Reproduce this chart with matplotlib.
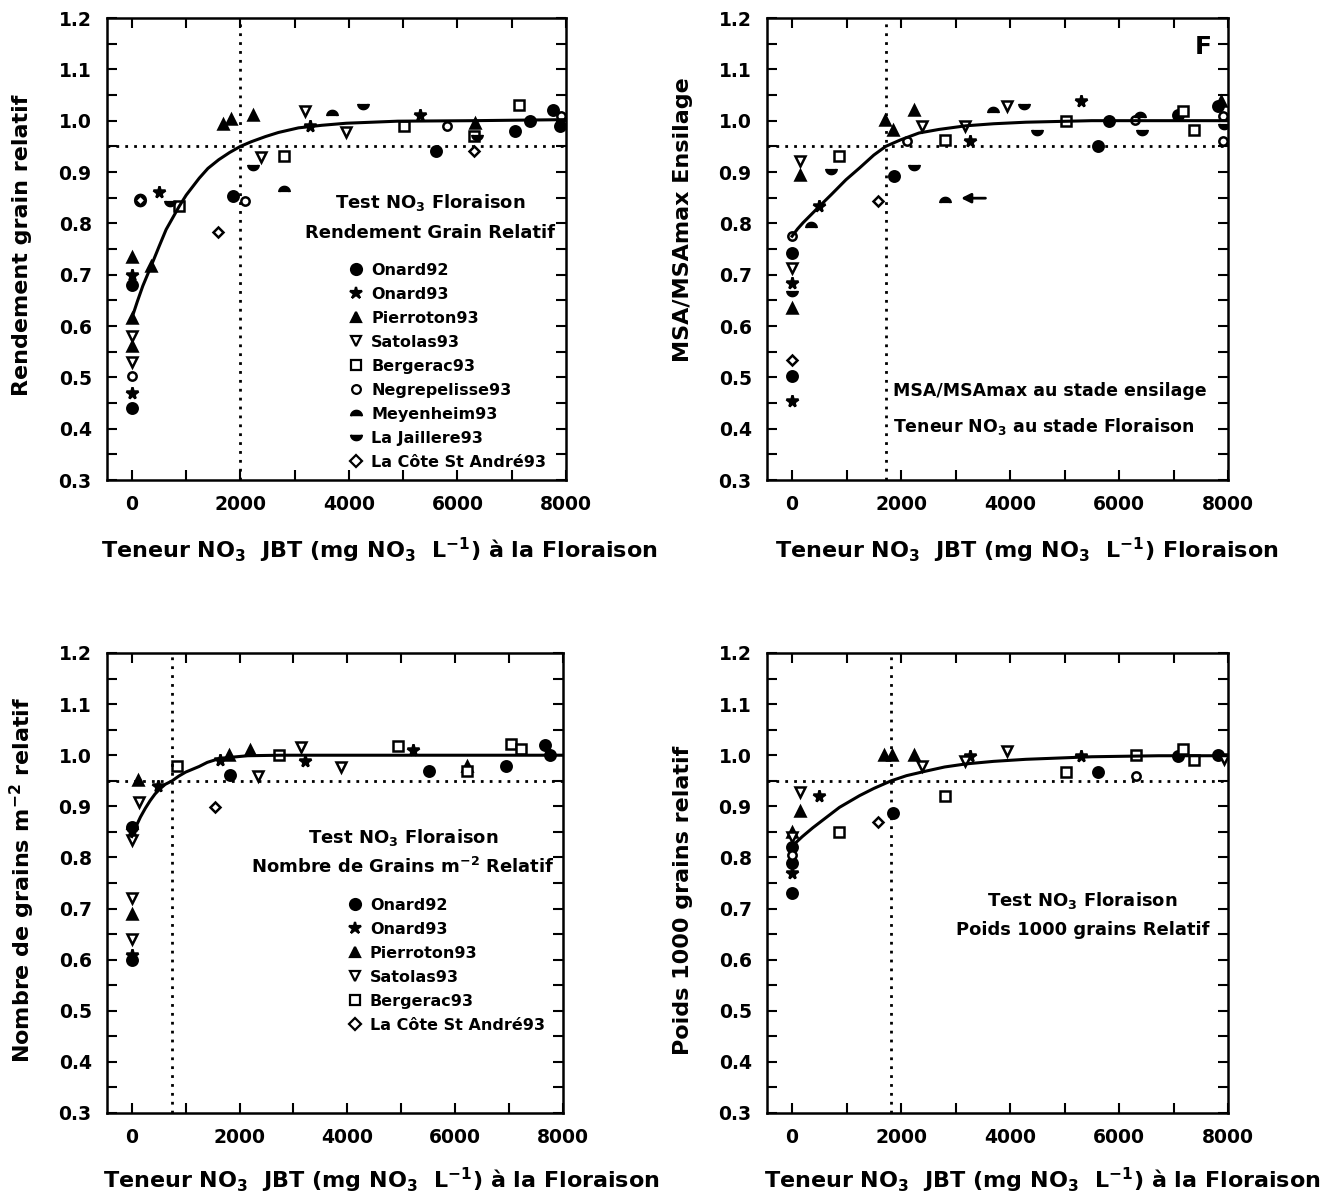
import numpy as np
import matplotlib
matplotlib.use("Agg")
import matplotlib.pyplot as plt
from matplotlib.ticker import MultipleLocator, FormatStrFormatter
from matplotlib.lines import Line2D

plt.rcParams['font.family'] = ['DejaVu Sans']
plt.rcParams['font.weight'] = 'bold'
plt.rcParams['mathtext.default'] = 'bf'

SITES = ["Onard92", "Onard93", "Pierroton93", "Satolas93", "Bergerac93",
         "Negrepelisse93", "Meyenheim93", "La Jaillere93", "La Côte St André93"]

# --- Rendement grain relatif (haut gauche)
rdt_x = {
    "Onard92": [0, 0, 1870, 5610, 7060, 7330, 7760, 7890],
    "Onard93": [0, 0, 500, 3280, 5300],
    "Pierroton93": [0, 0, 0, 350, 1680, 1830, 2240, 6330],
    "Satolas93": [0, 0, 2380, 3190, 3950],
    "Bergerac93": [860, 2810, 5020, 6300, 7130],
    "Negrepelisse93": [0, 2090, 5800, 7900],
    "Meyenheim93": [150, 2810, 3680],
    "La Jaillere93": [150, 700, 2240, 4260, 6360],
    "La Côte St André93": [150, 1585, 6300],
}
rdt_y = {
    "Onard92": [0.44, 0.68, 0.853, 0.94, 0.98, 1.0, 1.021, 0.99],
    "Onard93": [0.70, 0.47, 0.862, 0.99, 1.012],
    "Pierroton93": [0.734, 0.616, 0.562, 0.716, 0.994, 1.004, 1.012, 0.995],
    "Satolas93": [0.58, 0.53, 0.929, 1.018, 0.978],
    "Bergerac93": [0.833, 0.932, 0.989, 0.971, 1.031],
    "Negrepelisse93": [0.503, 0.843, 0.99, 1.01],
    "Meyenheim93": [0.852, 0.866, 1.014],
    "La Jaillere93": [0.84, 0.84, 0.909, 1.029, 0.968],
    "La Côte St André93": [0.846, 0.783, 0.94],
}
rdt_curve_x = [0, 100, 200, 350, 500, 630, 870, 1000, 1240, 1400, 1600, 1800, 2000, 2200,
               2460, 2700, 3070, 3500, 3950, 4900, 6300, 8000]
rdt_curve_y = [0.616, 0.648, 0.678, 0.716, 0.755, 0.788, 0.833, 0.855, 0.888, 0.907, 0.924, 0.938,
               0.95, 0.959, 0.969, 0.977, 0.986, 0.991, 0.995, 0.999, 1.0, 1.002]

# --- MSA/MSAmax ensilage (haut droite)
msa_x = {
    "Onard92": [0, 0, 1870, 5610, 5810, 7090, 7810],
    "Onard93": [0, 0, 490, 3260, 5300],
    "Pierroton93": [0, 140, 1700, 1850, 2230, 7880],
    "Satolas93": [0, 140, 2380, 3180, 3950],
    "Bergerac93": [870, 2810, 5030, 7180, 7370],
    "Negrepelisse93": [0, 2110, 6300, 7900, 7900],
    "Meyenheim93": [350, 2810, 3680, 6390],
    "La Jaillere93": [0, 720, 2230, 4260, 4500, 6420, 7930],
    "La Côte St André93": [0, 1570],
}
msa_y = {
    "Onard92": [0.503, 0.742, 0.892, 0.95, 1.0, 1.012, 1.029],
    "Onard93": [0.453, 0.684, 0.833, 0.96, 1.039],
    "Pierroton93": [0.635, 0.894, 1.002, 0.982, 1.02, 1.039],
    "Satolas93": [0.713, 0.922, 0.989, 0.989, 1.029],
    "Bergerac93": [0.932, 0.962, 1.0, 1.019, 0.981],
    "Negrepelisse93": [0.775, 0.961, 1.002, 1.01, 0.96],
    "Meyenheim93": [0.797, 0.846, 1.021, 1.012],
    "La Jaillere93": [0.664, 0.901, 0.909, 1.028, 0.978, 0.978, 0.989],
    "La Côte St André93": [0.534, 0.844],
}
msa_curve_x = [0, 100, 200, 350, 490, 720, 990, 1240, 1500, 1720, 2000, 2330, 2700, 3190,
               3700, 4290, 5500, 8000]
msa_curve_y = [0.775, 0.789, 0.801, 0.817, 0.832, 0.856, 0.885, 0.908, 0.933, 0.95, 0.963,
               0.976, 0.983, 0.99, 0.994, 0.997, 1.0, 1.0]

# --- Nombre de grains m-2 relatif (bas gauche)
ngr_x = {
    "Onard92": [0, 0, 1830, 5510, 6940, 7660, 7750],
    "Onard93": [0, 0, 480, 1640, 3220, 5220],
    "Pierroton93": [0, 120, 1800, 2200, 6210],
    "Satolas93": [0, 0, 0, 130, 2340, 3130, 3890],
    "Bergerac93": [840, 2740, 4930, 6210, 7030, 7220],
    "La Côte St André93": [1550],
}
ngr_y = {
    "Onard92": [0.60, 0.86, 0.961, 0.969, 0.979, 1.02, 1.0],
    "Onard93": [0.61, 0.853, 0.94, 0.99, 0.988, 1.01],
    "Pierroton93": [0.69, 0.952, 1.0, 1.01, 0.978],
    "Satolas93": [0.64, 0.72, 0.835, 0.908, 0.96, 1.017, 0.977],
    "Bergerac93": [0.979, 1.0, 1.019, 0.97, 1.021, 1.012],
    "La Côte St André93": [0.898],
}
ngr_curve_x = [0, 80, 160, 250, 340, 430, 520, 620, 750, 870, 1000, 1250, 1400, 1640, 2150, 2750, 8000]
ngr_curve_y = [0.841, 0.861, 0.879, 0.896, 0.911, 0.924, 0.934, 0.943, 0.95, 0.959, 0.967, 0.978,
               0.986, 0.994, 0.999, 1.0, 1.0]

# --- Poids 1000 grains relatif (bas droite)
pmg_x = {
    "Onard92": [0, 0, 0, 1860, 5610, 7090, 7820],
    "Onard93": [0, 490, 3270, 5300],
    "Pierroton93": [0, 140, 1680, 1840, 2230],
    "Satolas93": [0, 140, 2380, 3180, 3950, 7920],
    "Bergerac93": [870, 2810, 5030, 6310, 7170, 7370],
    "Negrepelisse93": [0, 6310],
    "La Côte St André93": [1570],
}
pmg_y = {
    "Onard92": [0.73, 0.79, 0.82, 0.887, 0.968, 0.999, 1.0],
    "Onard93": [0.77, 0.92, 0.999, 0.999],
    "Pierroton93": [0.85, 0.89, 1.0, 1.0, 1.0],
    "Satolas93": [0.84, 0.928, 0.979, 0.989, 1.008, 0.992],
    "Bergerac93": [0.85, 0.92, 0.968, 1.0, 1.012, 0.99],
    "Negrepelisse93": [0.805, 0.96],
    "La Côte St André93": [0.87],
}
pmg_curve_x = [0, 190, 380, 600, 870, 1240, 1500, 1820, 2100, 2460, 2800, 3190, 3700, 4290,
               5500, 6730, 8000]
pmg_curve_y = [0.822, 0.841, 0.858, 0.876, 0.898, 0.921, 0.935, 0.95, 0.96, 0.969, 0.977, 0.983,
               0.988, 0.992, 0.997, 0.999, 0.999]

# formes des symboles
t = np.linspace(0, np.pi, 25)
dome = [(np.cos(a), np.sin(a) - 0.5) for a in t]
cup = [(np.cos(a), -np.sin(a) + 0.5) for a in t]
STYLE = {
    "Onard92": dict(marker='o', ms=7.5, mfc='black'),
    "Onard93": dict(marker='*', ms=8.5, mfc='black'),
    "Pierroton93": dict(marker='^', ms=7.5, mfc='black'),
    "Satolas93": dict(marker='v', ms=7.5, mfc='white'),
    "Bergerac93": dict(marker='s', ms=6.5, mfc='white'),
    "Negrepelisse93": dict(marker='o', ms=6, mfc='white'),
    "Meyenheim93": dict(marker=dome, ms=7.5, mfc='black'),
    "La Jaillere93": dict(marker=cup, ms=7.5, mfc='black'),
    "La Côte St André93": dict(marker='D', ms=5.5, mfc='white'),
}


def panel(ax, xs, ys, cx, cy, vline):
    for s in SITES:
        if s in xs:
            ax.plot(xs[s], ys[s], ls='none', mec='black', mew=1.8, color='black', **STYLE[s])
    ax.plot(cx, cy, color='black', lw=2.2)
    ax.axhline(0.95, color='black', lw=2, ls=(0, (1, 2.2)))
    ax.axvline(vline, color='black', lw=2, ls=(0, (1, 2.2)))
    ax.set_xlim(-460, 8000)
    ax.set_ylim(0.3, 1.2)
    ax.xaxis.set_major_locator(MultipleLocator(2000))
    ax.xaxis.set_minor_locator(MultipleLocator(1000))
    ax.yaxis.set_major_locator(MultipleLocator(0.1))
    ax.yaxis.set_minor_locator(MultipleLocator(0.05))
    ax.yaxis.set_major_formatter(FormatStrFormatter('%.1f'))
    ax.tick_params(which='both', direction='in', top=True, right=True,
                   length=7, width=1.5, labelsize=13.5, pad=11)
    for sp in ax.spines.values():
        sp.set_linewidth(1.8)


def site_legend(ax, sites, x, y):
    handles = [Line2D([], [], ls='none', mec='black', mew=1.6, color='black', **STYLE[s]) for s in sites]
    ax.legend(handles, sites, loc='upper left', bbox_to_anchor=(x, y), frameon=False,
              fontsize=11.5, borderpad=0, handlelength=1.0, handletextpad=0.45,
              labelspacing=0.56, markerscale=1.05)


fig = plt.figure(figsize=(13.25, 12), dpi=100)
ax1 = fig.add_axes([107 / 1325, 1 - 480 / 1200, 459 / 1325, 462 / 1200])
ax2 = fig.add_axes([767 / 1325, 1 - 480 / 1200, 461 / 1325, 462 / 1200])
ax3 = fig.add_axes([107 / 1325, 1 - 1113 / 1200, 456 / 1325, 460 / 1200])
ax4 = fig.add_axes([767 / 1325, 1 - 1113 / 1200, 461 / 1325, 460 / 1200])

panel(ax1, rdt_x, rdt_y, rdt_curve_x, rdt_curve_y, 2000)
panel(ax2, msa_x, msa_y, msa_curve_x, msa_curve_y, 1720)
panel(ax3, ngr_x, ngr_y, ngr_curve_x, ngr_curve_y, 750)
panel(ax4, pmg_x, pmg_y, pmg_curve_x, pmg_curve_y, 1820)

# textes haut gauche
ax1.text(0.704, 0.60, "Test NO$_3$ Floraison", transform=ax1.transAxes, ha='center', va='center', fontsize=13)
ax1.text(0.704, 0.535, "Rendement Grain Relatif", transform=ax1.transAxes, ha='center', va='center', fontsize=13)
site_legend(ax1, SITES, 0.508, 0.487)

# haut droite
ax2.text(0.946, 0.937, "F", transform=ax2.transAxes, ha='center', va='center', fontsize=18)
ax2.annotate("", xy=(3050, 0.849), xytext=(3600, 0.849),
             arrowprops=dict(arrowstyle='-|>', lw=2, color='black', mutation_scale=14))
ax2.text(1850, 0.473, "MSA/MSAmax au stade ensilage", ha='left', va='center', fontsize=12.5)
ax2.text(1850, 0.405, "Teneur NO$_3$ au stade Floraison", ha='left', va='center', fontsize=12.5)

# bas gauche
ax3.text(0.649, 0.60, "Test NO$_3$ Floraison", transform=ax3.transAxes, ha='center', va='center', fontsize=13)
ax3.text(0.649, 0.535, "Nombre de Grains m$^{-2}$ Relatif", transform=ax3.transAxes, ha='center', va='center', fontsize=13)
site_legend(ax3, ["Onard92", "Onard93", "Pierroton93", "Satolas93", "Bergerac93", "La Côte St André93"],
            0.508, 0.485)

# bas droite
ax4.text(0.685, 0.463, "Test NO$_3$ Floraison", transform=ax4.transAxes, ha='center', va='center', fontsize=13)
ax4.text(0.685, 0.398, "Poids 1000 grains Relatif", transform=ax4.transAxes, ha='center', va='center', fontsize=13)

# titres des axes
xl = "Teneur NO$_3$  JBT (mg NO$_3$  L$^{-1}$) à la Floraison"
fig.text(379 / 1325, 1 - 550 / 1200, xl, ha='center', va='center', fontsize=16)
fig.text(1027 / 1325, 1 - 550 / 1200, "Teneur NO$_3$  JBT (mg NO$_3$  L$^{-1}$) Floraison",
         ha='center', va='center', fontsize=16)
fig.text(381 / 1325, 1 - 1180 / 1200, xl, ha='center', va='center', fontsize=16)
fig.text(1042 / 1325, 1 - 1180 / 1200, xl, ha='center', va='center', fontsize=16)

fig.text(22 / 1325, 1 - 245 / 1200, "Rendement grain relatif", rotation=90, ha='center', va='center', fontsize=16)
fig.text(683 / 1325, 1 - 220 / 1200, "MSA/MSAmax Ensilage", rotation=90, ha='center', va='center', fontsize=16)
fig.text(22 / 1325, 1 - 880 / 1200, "Nombre de grains m$^{-2}$ relatif", rotation=90, ha='center', va='center', fontsize=16)
fig.text(683 / 1325, 1 - 900 / 1200, "Poids 1000 grains relatif", rotation=90, ha='center', va='center', fontsize=16)

fig.savefig("out.png", dpi=100)
